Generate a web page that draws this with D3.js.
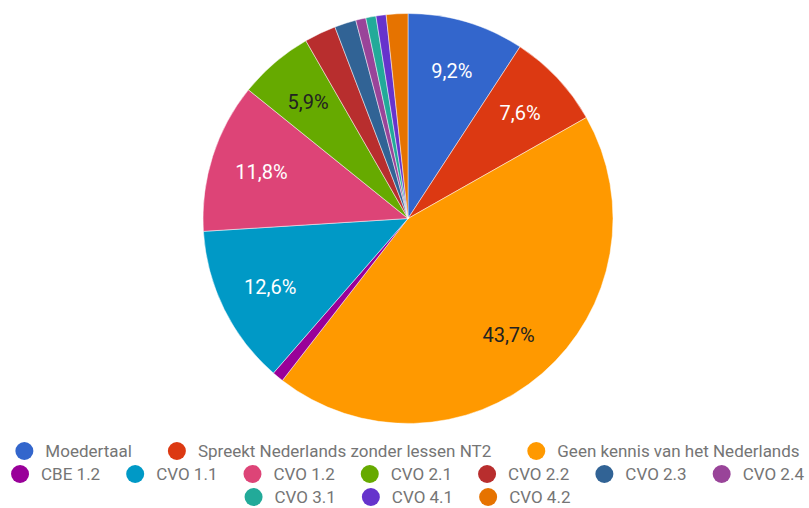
<!DOCTYPE html>
<html>
<head>
<meta charset="utf-8">
<script src="https://cdn.jsdelivr.net/npm/d3@7"></script>
<style>
  html, body { margin: 0; padding: 0; background: #fff; }
  svg { display: block; font-family: Roboto, "Noto Sans", sans-serif; }
</style>
</head>
<body>
<div id="chart"></div>
<script>
// categorieen en percentages
const categories = [
  "Moedertaal", "Spreekt Nederlands zonder lessen NT2", "Geen kennis van het Nederlands",
  "CBE 1.2", "CVO 1.1", "CVO 1.2", "CVO 2.1", "CVO 2.2", "CVO 2.3", "CVO 2.4",
  "CVO 3.1", "CVO 4.1", "CVO 4.2"
];
const values = [9.2, 7.6, 43.7, 0.9, 12.6, 11.8, 5.9, 2.5, 1.7, 0.8, 0.8, 0.8, 1.7];
const colors = [
  "#3366cc", "#dc3912", "#ff9900", "#990099", "#0099c6", "#dd4477", "#66aa00",
  "#b82e2e", "#316395", "#994499", "#22aa99", "#6633cc", "#e67300"
];
// slices waar de tekst donker is
const darkText = ["Geen kennis van het Nederlands", "CVO 2.1"];

const width = 809, height = 508;
const cx = 408, cy = 218.5, radius = 205;

const svg = d3.select("#chart").append("svg")
  .attr("width", width)
  .attr("height", height);

const data = categories.map((c, i) => ({ name: c, value: values[i], color: colors[i] }));
const total = d3.sum(values);

const pie = d3.pie().value(d => d.value).sort(null);
const arc = d3.arc().innerRadius(0).outerRadius(radius);
const labelArc = d3.arc().innerRadius(radius * 0.75).outerRadius(radius * 0.75);

const g = svg.append("g").attr("transform", `translate(${cx},${cy})`);
const arcs = pie(data);

g.selectAll("path")
  .data(arcs)
  .join("path")
  .attr("d", arc)
  .attr("fill", d => d.data.color)
  .attr("stroke", "#fff")
  .attr("stroke-width", 0.6)
  .attr("stroke-opacity", 0.8);

const fmt = d3.format(".1f");
g.selectAll("text")
  .data(arcs.filter(d => d.data.value / total >= 0.05))
  .join("text")
  .attr("transform", d => `translate(${labelArc.centroid(d)})`)
  .attr("text-anchor", "middle")
  .attr("dy", "0.36em")
  .style("font-size", "20px")
  .style("fill", d => darkText.includes(d.data.name) ? "#222" : "#fff")
  .text(d => fmt(d.data.value / total * 100).replace(".", ",") + "%");

// legenda onderaan, gecentreerd per regel
const legendFont = 17, dotR = 9, textGap = 21, itemGap = 26;
const lineY = [451, 474, 497];
const maxW = width - 10;

const legend = svg.append("g");
const items = data.map(d => {
  const it = legend.append("g");
  it.append("circle").attr("r", dotR).attr("fill", d.color);
  const t = it.append("text")
    .attr("x", textGap)
    .attr("dy", "0.35em")
    .style("font-size", legendFont + "px")
    .style("fill", "#757575")
    .text(d.name);
  const w = dotR + textGap + t.node().getComputedTextLength();
  return { node: it, w };
});

const lines = [];
let cur = [], curW = 0;
items.forEach(it => {
  const add = cur.length ? itemGap + it.w : it.w;
  if (cur.length && curW + add > maxW) {
    lines.push({ items: cur, w: curW });
    cur = [it]; curW = it.w;
  } else {
    cur.push(it); curW += add;
  }
});
if (cur.length) lines.push({ items: cur, w: curW });

lines.forEach((ln, li) => {
  // eerste regel iets ruimer gespreid, zoals in het origineel
  const gap = li === 0 ? itemGap + 10 : itemGap;
  const w = ln.w + (gap - itemGap) * (ln.items.length - 1);
  let x = (width - w) / 2 + 3;
  ln.items.forEach(it => {
    it.node.attr("transform", `translate(${x + dotR},${lineY[li]})`);
    x += it.w + gap;
  });
});
</script>
</body>
</html>
